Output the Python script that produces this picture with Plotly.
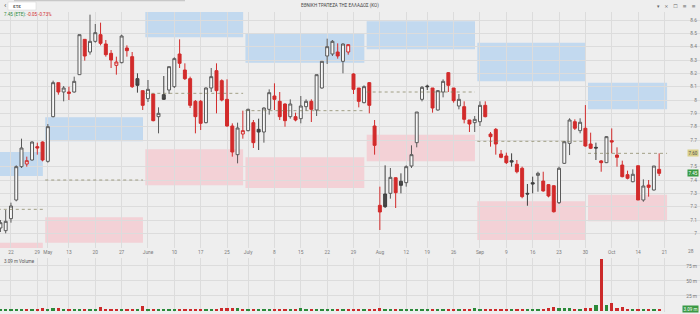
import plotly.graph_objects as go
import pandas as pd

# ---------------- data ----------------
closed_days = ["2024-05-01", "2024-05-02", "2024-05-03", "2024-05-06", "2024-06-24", "2024-08-15"]
dates = [d for d in pd.bdate_range("2024-04-18", "2024-10-18") if d.strftime("%Y-%m-%d") not in closed_days]
future_days = list(pd.bdate_range("2024-10-21", "2024-10-31"))

opens = [7.04, 7.02, 7.11, 7.25, 7.50, 7.52, 7.55, 7.65, 7.685, 7.54,
         7.875, 8.13, 8.06, 8.06, 8.06, 8.19, 8.455, 8.36, 8.44, 8.49,
         8.42, 8.35, 8.26, 8.28, 8.39, 8.325, 8.16, 8.07, 8.01, 8.045,
         7.875, 8.04, 8.075, 8.10, 8.345, 8.225, 8.16, 7.99, 7.99, 7.83,
         8.09, 8.22, 8.145, 8.005, 7.805, 7.59, 7.745, 7.77, 7.83, 7.78,
         7.76, 7.93, 8.03, 7.99, 7.97, 7.875, 7.875, 7.86, 7.95, 7.99,
         7.925, 8.09, 8.33, 8.345, 8.36, 8.29, 8.36, 8.195, 8.09, 7.98,
         8.13, 7.805, 7.21, 7.295, 7.30, 7.417, 7.39, 7.38, 7.505, 7.68,
         8.005, 8.105, 8.09, 7.925, 8.06, 8.205, 8.09, 7.955, 7.95, 7.85,
         7.83, 7.837, 7.96, 7.745, 7.78, 7.595, 7.58, 7.545, 7.518, 7.488,
         7.30, 7.38, 7.435, 7.392, 7.365, 7.357, 7.23, 7.525, 7.675, 7.837,
         7.77, 7.788, 7.67, 7.645, 7.543, 7.53, 7.695, 7.587, 7.512, 7.44,
         7.387, 7.507, 7.25, 7.362, 7.325, 7.48]
highs = [7.10, 7.175, 7.23, 7.51, 7.71, 7.575, 7.69, 7.68, 7.69, 7.82,
         8.145, 8.13, 8.105, 8.10, 8.175, 8.49, 8.455, 8.64, 8.57, 8.58,
         8.45, 8.375, 8.325, 8.49, 8.41, 8.36, 8.20, 8.07, 8.15, 8.045,
         7.945, 8.18, 8.25, 8.32, 8.455, 8.275, 8.175, 8.00, 8.00, 8.095,
         8.24, 8.275, 8.155, 8.155, 7.825, 7.83, 7.92, 7.935, 7.85, 7.86,
         7.945, 8.08, 8.125, 8.06, 7.975, 8.005, 7.905, 8.03, 8.005, 8.005,
         8.19, 8.29, 8.46, 8.45, 8.425, 8.425, 8.42, 8.20, 8.09, 8.11,
         8.135, 7.85, 7.35, 7.51, 7.49, 7.42, 7.45, 7.51, 7.66, 7.91,
         8.105, 8.115, 8.09, 8.075, 8.155, 8.21, 8.09, 8.045, 7.99, 7.85,
         7.88, 7.99, 7.99, 7.76, 7.79, 7.625, 7.605, 7.60, 7.55, 7.50,
         7.37, 7.425, 7.462, 7.462, 7.37, 7.36, 7.50, 7.693, 7.863, 7.855,
         7.863, 7.962, 7.755, 7.68, 7.55, 7.73, 7.787, 7.645, 7.545, 7.47,
         7.48, 7.507, 7.405, 7.40, 7.505, 7.60]
lows = [7.01, 7.00, 7.08, 7.24, 7.49, 7.50, 7.545, 7.59, 7.54, 7.53,
        7.87, 8.04, 7.99, 8.00, 8.055, 8.19, 8.295, 8.34, 8.43, 8.41,
        8.325, 8.24, 8.19, 8.275, 8.325, 8.09, 8.055, 7.925, 7.985, 7.84,
        7.75, 8.00, 8.045, 8.09, 8.24, 8.15, 7.94, 7.75, 7.775, 7.825,
        8.06, 7.90, 7.99, 7.80, 7.575, 7.525, 7.71, 7.765, 7.64, 7.625,
        7.68, 7.89, 7.925, 7.85, 7.80, 7.86, 7.84, 7.825, 7.92, 7.835,
        7.88, 8.085, 8.27, 8.33, 8.31, 8.20, 8.34, 8.045, 7.945, 7.975,
        7.90, 7.59, 7.025, 7.19, 7.26, 7.19, 7.30, 7.35, 7.49, 7.645,
        7.99, 8.075, 7.905, 7.92, 8.02, 8.06, 7.98, 7.93, 7.825, 7.76,
        7.76, 7.805, 7.87, 7.65, 7.59, 7.563, 7.52, 7.50, 7.45, 7.263,
        7.207, 7.30, 7.312, 7.312, 7.27, 7.156, 7.22, 7.52, 7.587, 7.775,
        7.75, 7.65, 7.632, 7.55, 7.462, 7.527, 7.60, 7.50, 7.42, 7.405,
        7.383, 7.25, 7.237, 7.275, 7.321, 7.43]
closes = [7.08, 7.09, 7.205, 7.50, 7.64, 7.545, 7.685, 7.64, 7.55, 7.80,
          8.13, 8.06, 8.09, 8.05, 8.14, 8.49, 8.33, 8.44, 8.505, 8.425,
          8.34, 8.30, 8.285, 8.48, 8.37, 8.10, 8.11, 7.96, 8.08, 7.845,
          7.90, 8.005, 8.25, 8.31, 8.275, 8.16, 7.96, 7.875, 7.825, 8.09,
          8.175, 8.07, 8.00, 7.805, 7.61, 7.79, 7.77, 7.93, 7.68, 7.76,
          7.94, 8.055, 8.005, 7.875, 7.845, 7.97, 7.85, 7.955, 7.99, 7.93,
          8.19, 8.29, 8.40, 8.44, 8.33, 8.42, 8.415, 8.08, 7.99, 8.10,
          7.96, 7.66, 7.16, 7.20, 7.42, 7.305, 7.36, 7.50, 7.59, 7.91,
          8.095, 8.10, 7.94, 8.07, 8.14, 8.11, 7.995, 8.005, 7.855, 7.82,
          7.855, 7.96, 7.875, 7.725, 7.67, 7.57, 7.53, 7.535, 7.462, 7.275,
          7.295, 7.37, 7.45, 7.318, 7.28, 7.162, 7.488, 7.687, 7.85, 7.788,
          7.833, 7.655, 7.638, 7.64, 7.53, 7.725, 7.685, 7.57, 7.425, 7.413,
          7.443, 7.25, 7.355, 7.345, 7.505, 7.45]
volumes_m = [2.1, 2.4, 2.8, 3.6, 3.9, 2.5, 3.2, 3.0, 4.4,
             3.8, 5.2, 4.6, 2.2, 2.0, 1.9, 3.1, 2.9, 2.4, 2.7, 6.8, 2.6, 2.1, 2.3, 1.9, 2.2, 3.4, 2.0, 8.4,
             2.3, 3.1, 2.0, 2.6, 1.8, 2.2, 3.0, 2.4, 2.6, 2.1, 2.8, 2.5, 2.3, 2.9, 4.3, 4.6, 5.1, 4.2, 2.4,
             2.6, 2.2, 1.9, 2.1, 2.3, 2.0, 1.8, 2.2, 2.1, 2.0, 4.7, 2.3, 2.1, 2.9, 3.1, 2.4, 2.2, 2.0, 2.3,
             2.1, 1.8, 2.2, 2.0,
             2.6, 3.2, 5.4, 3.1, 2.4, 2.2, 2.0, 2.3, 2.1, 2.7, 2.2, 1.9, 2.4, 2.1, 2.0, 1.9, 2.2, 2.0, 2.3,
             2.1, 4.6,
             2.4, 2.2, 2.0, 3.0, 2.3, 2.1, 2.0, 2.6, 2.4, 2.2, 1.9, 2.1, 2.5, 4.8, 6.1, 4.4, 4.2, 4.5, 2.6,
             3.0, 4.8,
             4.6, 9.8, 87.0, 10.2, 13.4, 4.9, 6.1, 3.6, 3.8, 3.2, 2.4, 3.0, 2.7, 3.09]

# monthly zones (resistance / support / pivot)
zone_month = [4, 5, 6, 7, 8, 9, 10]
res_lo = [7.43, 7.69, 8.47, 8.28, 8.38, 8.14, 7.93]
res_hi = [7.61, 7.87, 8.70, 8.50, 8.59, 8.43, 8.13]
sup_lo = [6.80, 6.93, 7.36, 7.34, 7.54, 6.95, 7.09]
sup_hi = [6.93, 7.12, 7.63, 7.57, 7.74, 7.24, 7.29]
pivot = [7.18, 7.40, 8.05, 7.92, 8.06, 7.69, 7.60]

price_ticks = [7.0, 7.1, 7.2, 7.3, 7.4, 7.5, 7.6, 7.7, 7.8, 7.9, 8.0, 8.1, 8.2, 8.3, 8.4, 8.5, 8.6, 8.7]
month_names = {4: "Apr", 5: "May", 6: "June", 7: "July", 8: "Aug", 9: "Sep", 10: "Oct"}
title_text = "ΕΘΝΙΚΗ ΤΡΑΠΕΖΑ ΤΗΣ ΕΛΛΑΔΟΣ (ΚΟ)"
search_text = "ετε"

# ---------------- derived ----------------
n = len(dates)
idx = list(range(n))
all_days = dates + future_days
tick_idx, tick_txt = [], []
prev_month = all_days[0].month
for i in range(1, len(all_days)):
    d = all_days[i]
    if d.isocalendar()[1] != all_days[i - 1].isocalendar()[1]:
        tick_idx.append(i)
        tick_txt.append(month_names[d.month] if d.month != prev_month else str(d.day))
        prev_month = d.month

# price tick labels hidden behind the right-hand price tags (as in the reference)
tag_levels = [pivot[-1]]
shown_ticks = [t for t in price_ticks if all(abs(t - v) > 0.03 for v in tag_levels)]

groups = {"up_black": [], "up_red": [], "down_red": [], "down_dark": []}
vol_colors = []
for i in idx:
    pc = closes[i - 1] if i > 0 else opens[i]
    up = closes[i] >= opens[i]
    gain = closes[i] >= pc
    if up and gain:
        groups["up_black"].append(i)
    elif up:
        groups["up_red"].append(i)
    elif gain:
        groups["down_dark"].append(i)
    else:
        groups["down_red"].append(i)
    vol_colors.append("#2b8a3a" if gain else "#cc2a2a")

RED = "#d22b2b"
styles = {
    "up_black": ("#5a5a5a", "#f8f8f8"),
    "up_red": (RED, "#f8f8f8"),
    "down_red": (RED, RED),
    "down_dark": ("#3f3f3f", "#4a4a4a"),
}

fig = go.Figure()
for name, members in groups.items():
    lc, fc = styles[name]
    fig.add_trace(go.Candlestick(
        x=members,
        open=[opens[i] for i in members], high=[highs[i] for i in members],
        low=[lows[i] for i in members], close=[closes[i] for i in members],
        increasing=dict(line=dict(color=lc, width=1), fillcolor=fc),
        decreasing=dict(line=dict(color=lc, width=1), fillcolor=fc),
        whiskerwidth=0, showlegend=False, hoverinfo="skip",
        xaxis="x", yaxis="y",
    ))

fig.add_trace(go.Bar(x=idx, y=volumes_m, marker=dict(color=vol_colors, line=dict(width=0)),
                     width=0.62, xaxis="x2", yaxis="y2", showlegend=False, hoverinfo="skip"))

# zones
shapes = []
for k, m in enumerate(zone_month):
    members = [i for i, d in enumerate(dates) if d.month == m]
    x0 = members[0] - 0.5
    x1 = members[-1] + (1.5 if k == len(zone_month) - 1 else 0.05)
    shapes.append(dict(type="rect", xref="x", yref="y", x0=x0, x1=x1, y0=res_lo[k], y1=res_hi[k],
                       fillcolor="rgba(150,195,240,0.5)", line=dict(width=0), layer="below"))
    shapes.append(dict(type="rect", xref="x", yref="y", x0=x0, x1=x1, y0=sup_lo[k], y1=sup_hi[k],
                       fillcolor="rgba(250,170,180,0.42)", line=dict(width=0), layer="below"))
    shapes.append(dict(type="line", xref="x", yref="y", x0=x0, x1=x1, y0=pivot[k], y1=pivot[k],
                       line=dict(color="rgba(130,125,90,0.7)", width=1, dash="dot"), layer="above"))

W, H = 700, 314
def px(x):
    return x / W
def py(y):
    return 1 - y / H

# top bar elements
shapes.append(dict(type="rect", xref="paper", yref="paper", x0=px(8), x1=px(36), y0=py(10), y1=py(2),
                   fillcolor="#ffffff", line=dict(color="#d0d0d0", width=0.5)))
shapes.append(dict(type="rect", xref="paper", yref="paper", x0=px(14), x1=px(185), y0=py(1.2), y1=py(0),
                   fillcolor="#c8c8c8", line=dict(width=0)))

fnt = "Roboto, Open Sans, sans-serif"
GRID = "#dcdcdc"
TICKF = dict(size=4.8, color="#7a7a7a", family=fnt)
xr = [-0.08, 132.75]

ann = []
# tick labels near the right edge are written as annotations so they are never dropped
edge_ticks = [k for k, t in enumerate(tick_idx) if t > n + 3]
axis_ticktext = [("" if k in edge_ticks else s) for k, s in enumerate(tick_txt)]
for k in edge_ticks:
    ann.append(dict(xref="x", yref="paper", x=tick_idx[k], y=py(251.5), text=tick_txt[k], showarrow=False,
                    font=TICKF, xanchor="center", yanchor="middle"))

ann.append(dict(xref="paper", yref="paper", x=px(2), y=py(6), text="‹", showarrow=False,
                font=dict(size=8, color="#555", family=fnt), xanchor="left", yanchor="middle"))
ann.append(dict(xref="paper", yref="paper", x=px(11), y=py(6), text=search_text, showarrow=False,
                font=dict(size=5, color="#444", family=fnt), xanchor="left", yanchor="middle"))
ann.append(dict(xref="paper", yref="paper", x=px(340), y=py(6), text=title_text, showarrow=False,
                font=dict(size=4.5, color="#444", family=fnt), xanchor="center", yanchor="middle"))
ann.append(dict(xref="paper", yref="paper", x=px(698), y=py(6), text="▾   ×   ☐   ≡   ≡", showarrow=False,
                font=dict(size=5, color="#666", family="DejaVu Sans"), xanchor="right", yanchor="middle"))
chg = closes[-1] - closes[-2]
ann.append(dict(xref="paper", yref="paper", x=px(2), y=py(14.5),
                text=f"<span style='color:#2b8a3a'>{closes[-1]:.2f} (ΕΤΕ):</span> "
                     f"<span style='color:#d22b2b'>{chg:+.2f} {chg / closes[-2] * 100:+.2f}%</span>",
                showarrow=False, font=dict(size=4.5, family=fnt), xanchor="left", yanchor="middle"))
ann.append(dict(xref="paper", yref="paper", x=px(2), y=py(261), text=f"{volumes_m[-1]:.2f} m Volume",
                showarrow=False, font=dict(size=4.5, color="#555", family=fnt), xanchor="left", yanchor="middle"))
# right tags
ann.append(dict(xref="paper", yref="y", x=px(699), y=pivot[-1], text=f"{pivot[-1]:.2f}", showarrow=False,
                font=dict(size=4.5, color="#555", family=fnt), bgcolor="#d9d08a", borderpad=0.6,
                xanchor="right", yanchor="middle"))
ann.append(dict(xref="paper", yref="y", x=px(699), y=closes[-1], text=f"{closes[-1]:.2f}", showarrow=False,
                font=dict(size=4.5, color="#ffffff", family=fnt), bgcolor="#3a9a44", borderpad=0.6,
                xanchor="right", yanchor="middle"))
ann.append(dict(xref="paper", yref="y2", x=px(699), y=volumes_m[-1] + 0.5, text=f"{volumes_m[-1]:.2f} m",
                showarrow=False, font=dict(size=4.5, color="#ffffff", family=fnt), bgcolor="#3a9a44",
                borderpad=0.6, xanchor="right", yanchor="middle"))

fig.update_layout(
    width=W, height=H, margin=dict(l=0, r=0, t=0, b=0),
    paper_bgcolor="#eeeeee", plot_bgcolor="#eeeeee",
    boxgap=0.2, boxgroupgap=0.3, bargap=0,
    shapes=shapes, annotations=ann, showlegend=False,
    xaxis=dict(domain=[0, 1], range=xr, anchor="y", tickmode="array", tickvals=tick_idx,
               ticktext=axis_ticktext,
               showgrid=True, gridcolor=GRID, gridwidth=1, zeroline=False, ticks="", tickfont=TICKF,
               rangeslider=dict(visible=False), fixedrange=True),
    yaxis=dict(domain=[py(248), py(12)], range=[6.89, 8.66], side="right", ticklabelposition="inside",
               tickmode="array", tickvals=shown_ticks, ticktext=[f"{t:g}" for t in shown_ticks],
               showgrid=True, gridcolor=GRID, zeroline=False, ticks="", tickfont=TICKF),
    xaxis2=dict(domain=[0, 1], range=xr, anchor="y2", matches="x", tickmode="array", tickvals=tick_idx,
                showticklabels=False, showgrid=True, gridcolor=GRID, zeroline=False, ticks=""),
    yaxis2=dict(domain=[py(312), py(258)], range=[-1.67, 88.3], side="right", ticklabelposition="inside",
                tickmode="array", tickvals=[25, 50, 75], ticktext=["25 m", "50 m", "75 m"],
                showgrid=True, gridcolor=GRID, zeroline=False, ticks="", tickfont=TICKF),
)

fig.write_html("out.html")
